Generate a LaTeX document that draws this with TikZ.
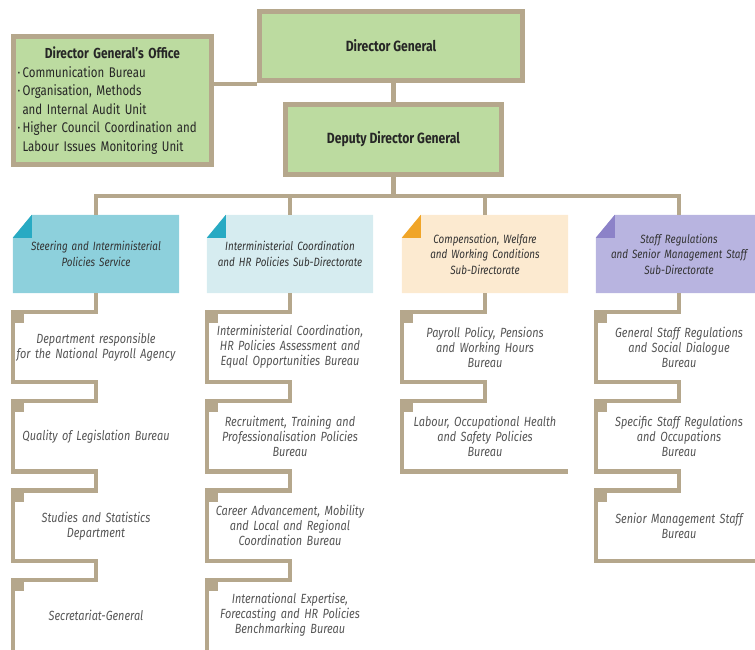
\documentclass[tikz,border=0pt]{standalone}
\usepackage{fontspec}
\setmainfont{Fira Sans}[FakeStretch=0.82]
\usetikzlibrary{positioning,backgrounds}

\definecolor{tan}{HTML}{B5A78C}
\definecolor{boxgreen}{HTML}{BCDBA0}
\definecolor{steerfill}{HTML}{8DD0DC}
\definecolor{steerfold}{HTML}{28AAC3}
\definecolor{coordfill}{HTML}{D6ECF0}
\definecolor{compfill}{HTML}{FCEAD0}
\definecolor{compfold}{HTML}{F0A528}
\definecolor{regfill}{HTML}{B8B4E0}
\definecolor{regfold}{HTML}{8C82C8}
\definecolor{bureautext}{HTML}{555555}

\tikzset{
    link/.style={draw=tan, line width=4.5pt},
    topbox/.style={draw=tan, line width=5pt, fill=boxgreen, text=black!85},
    headbox/.style={minimum width=166pt, minimum height=78pt, inner sep=0pt,
        align=center, text width=160pt, text=black!80,
        font=\itshape\fontsize{12}{15.5}\selectfont},
    bureau/.style={minimum width=166pt, minimum height=70pt, inner sep=0pt,
        align=center, text width=162pt, text=bureautext,
        font=\itshape\fontsize{13.3}{15}\selectfont},
}

\begin{document}
\begin{tikzpicture}[x=1pt, y=-1pt]
    \useasboundingbox (0,0) rectangle (755,649);

    \node[topbox, minimum width=263pt, minimum height=69pt,
        font=\bfseries\fontsize{14.8}{16}\selectfont] (dg) at (391,46) {Director General};
    \node[topbox, minimum width=216pt, minimum height=70pt,
        font=\bfseries\fontsize{14.8}{16}\selectfont] (ddg) at (393.5,139.5) {Deputy Director General};
    \node[topbox, minimum width=198pt, minimum height=128pt, text width=190pt, inner sep=3pt,
        font=\fontsize{14}{18.5}\selectfont] (dgo) at (112.5,100.5) {%
        \centering{\bfseries\fontsize{14.5}{18.5}\selectfont Director General's Office}\par
        \raggedright ·\,Communication Bureau\\
        ·\,Organisation, Methods\\
        \hspace*{5pt}and Internal Audit Unit\\
        ·\,Higher Council Coordination and\\
        \hspace*{5pt}Labour Issues Monitoring Unit\par};

    \coordinate (dgfoot) at ([yshift=-1pt]dg.south west);
    \draw[link] (dgo.east |- dgfoot) -- (dgfoot);
    \draw[link] (ddg.north |- dg.south) -- (ddg.north);

    % heads of the four branches
    \node[headbox] (h1) at (96,254) {Steering and Interministerial\\Policies Service};
    \node[headbox] (h2) at (290,254) {Interministerial Coordination\\and HR Policies Sub-Directorate};
    \node[headbox] (h3) at (485,254) {Compensation, Welfare\\and Working Conditions\\Sub-Directorate};
    \node[headbox] (h4) at (679,254) {Staff Regulations\\and Senior Management Staff\\Sub-Directorate};

    \begin{scope}[on background layer]
        \foreach \h/\f/\t in {h1/steerfill/steerfold, h2/coordfill/steerfold,
                              h3/compfill/compfold, h4/regfill/regfold} {
            \fill[\f] ([xshift=19pt]\h.north west) -- (\h.north east) -- (\h.south east)
                -- (\h.south west) -- ([yshift=-23pt]\h.north west) -- cycle;
            \fill[\t] ([yshift=-23pt]\h.north west) -- ([xshift=19pt]\h.north west)
                -- ([xshift=19pt,yshift=-23pt]\h.north west) -- cycle;
        }
    \end{scope}

    \coordinate (bus) at (0,196);
    \draw[link] (ddg.south) -- (ddg.south |- bus);
    \draw[link] (h1.north) -- (h1.north |- bus) -- (h4.north |- bus) -- (h4.north);
    \foreach \h in {h2,h3} {
        \draw[link] (\h.north |- bus) -- (\h.north);
    }

    % bureaus
    \node[bureau] (b11) at (96,347) {Department responsible\\for the National Payroll Agency};
    \node[bureau, below=19pt of b11] (b12) {Quality of Legislation Bureau};
    \node[bureau, below=19pt of b12] (b13) {Studies and Statistics\\Department};
    \node[bureau, below=19pt of b13] (b14) {Secretariat-General};

    \node[bureau] (b21) at (290,347) {Interministerial Coordination,\\HR Policies Assessment and\\Equal Opportunities Bureau};
    \node[bureau, below=19pt of b21] (b22) {Recruitment, Training and\\Professionalisation Policies\\Bureau};
    \node[bureau, below=19pt of b22] (b23) {Career Advancement, Mobility\\and Local and Regional\\Coordination Bureau};
    \node[bureau, below=19pt of b23] (b24) {International Expertise,\\Forecasting and HR Policies\\Benchmarking Bureau};

    \node[bureau] (b31) at (485,347) {Payroll Policy, Pensions\\and Working Hours\\Bureau};
    \node[bureau, below=19pt of b31] (b32) {Labour, Occupational Health\\and Safety Policies\\Bureau};

    \node[bureau] (b41) at (679,347) {General Staff Regulations\\and Social Dialogue\\Bureau};
    \node[bureau, below=19pt of b41] (b42) {Specific Staff Regulations\\and Occupations\\Bureau};
    \node[bureau, below=19pt of b42] (b43) {Senior Management Staff\\Bureau};

    \draw[link] (h1.south) foreach \b in {b11,b12,b13} {
        -- (\b.north) -- (\b.north west) -- (\b.south west) -- (\b.south)}
        -- (b14.north) -- (b14.north west) -- (b14.south west);
    \draw[link] (h2.south) foreach \b in {b21,b22,b23} {
        -- (\b.north) -- (\b.north west) -- (\b.south west) -- (\b.south)}
        -- (b24.north) -- (b24.north west) -- (b24.south west);
    \draw[link] (h3.south) -- (b31.north) -- (b31.north west) -- (b31.south west) -- (b31.south)
        -- (b32.north) -- (b32.north west) -- (b32.south west) -- (b32.south east);
    \draw[link] (h4.south) foreach \b in {b41,b42} {
        -- (\b.north) -- (\b.north west) -- (\b.south west) -- (\b.south)}
        -- (b43.north) -- (b43.north west) -- (b43.south west) -- (b43.south east);

    \foreach \b in {b11,b12,b13,b14,b21,b22,b23,b24,b31,b32,b41,b42,b43} {
        \fill[tan] (\b.north west) rectangle ++(11,11);
    }
\end{tikzpicture}
\end{document}
